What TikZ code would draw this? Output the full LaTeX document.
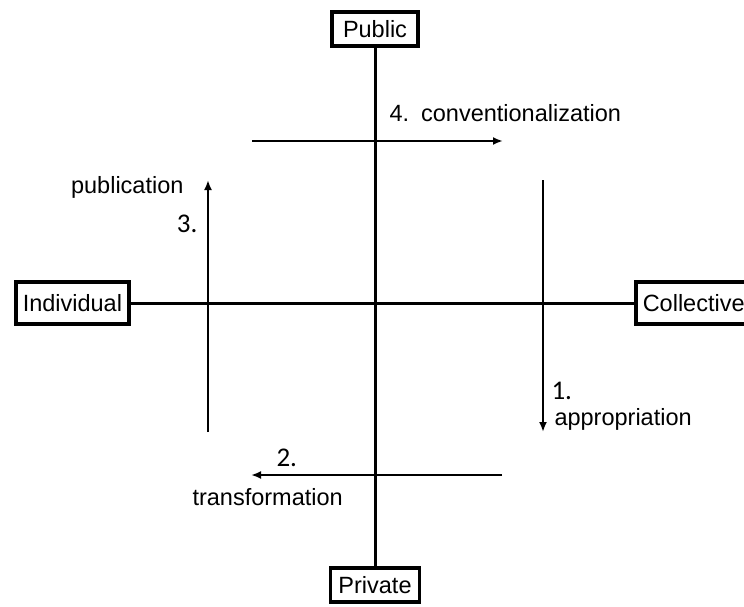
\documentclass[tikz,border=0pt]{standalone}
\usepackage{fontspec}
\setmainfont{Liberation Sans}
\newfontfamily\numfont{Carlito}
\usetikzlibrary{arrows.meta}

\begin{document}
\begin{tikzpicture}[x=1pt,y=-1pt,font=\fontsize{23.5}{27}\selectfont,
  pole/.style={draw,line width=3.5pt,inner xsep=7pt,inner ysep=0pt,minimum height=34pt},
  axis/.style={line width=3pt},
  move/.style={line width=2.5pt,-{Latex[length=10pt,width=8pt]}},
  num/.style={font=\numfont\fontsize{27}{30}\selectfont}]
\useasboundingbox (0,0) rectangle (744,607);

% the four poles
\node[pole,minimum width=86pt] (pub) at (375,29) {Public};
\node[pole,minimum width=89pt] (priv) at (375,585) {Private};
\node[pole,minimum height=42pt,anchor=west] (ind) at (14,303) {Individual};
\node[pole,minimum height=42pt,anchor=west] (col) at (634,303) {Collective};

\draw[axis] (pub) -- (priv);
\draw[axis] (ind) -- (col);

% the four moves
\coordinate (a1) at (543,180);
\coordinate (b1) at (543,432);
\coordinate (a2) at (502,475);
\coordinate (b2) at (251,475);
\coordinate (a3) at (208,432);
\coordinate (b3) at (208,180);
\coordinate (a4) at (252,141);
\coordinate (b4) at (503,141);

\draw[move] (a1) -- (b1);
\draw[move] (a2) -- (b2);
\draw[move] (a3) -- (b3);
\draw[move] (a4) -- (b4);

\node[num,anchor=base west] (n1) at (548,399) {1.};
\node[anchor=base west] (l1) at (551,425) {appropriation};
\node[num,anchor=base west] (n2) at (273,466) {2.};
\node[anchor=base west] (l2) at (189,505) {transformation};
\node[num,anchor=base east] (n3) at (201,232) {3.};
\node[anchor=base east] (l3) at (187,193) {publication};
\node[anchor=base west] (l4) at (386,122) {4.\hspace{12pt}conventionalization};

\end{tikzpicture}
\end{document}
